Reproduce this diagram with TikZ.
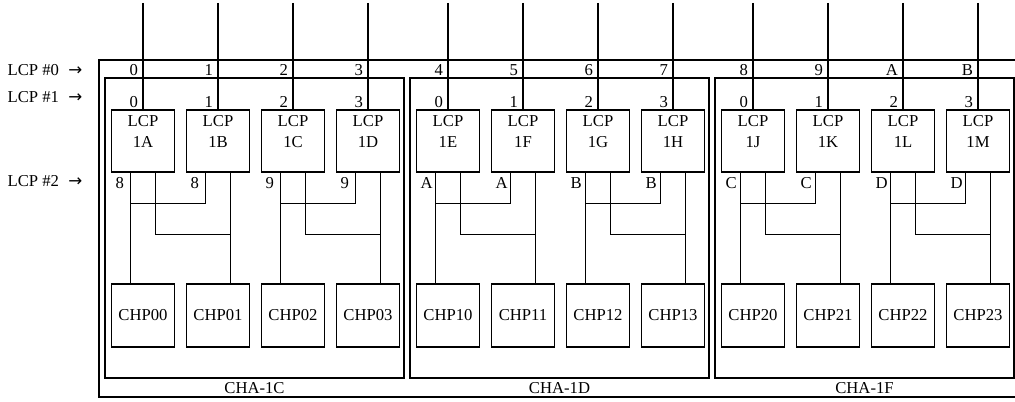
\documentclass[tikz,border=0pt]{standalone}
\usepackage{fontspec}
\setmainfont{Liberation Serif}
\newfontfamily\arrowfont{DejaVu Sans}
\usetikzlibrary{positioning, calc}

\tikzset{
  lcpbox/.style={draw, minimum width=47.25pt, minimum height=46.5pt, inner sep=0pt},
  chpbox/.style={draw, minimum width=47.25pt, minimum height=47.25pt, inner sep=0pt},
  chabox/.style={draw, minimum width=224.25pt, minimum height=225pt, inner sep=0pt},
  lbl/.style={inner sep=0pt},
}
\newcommand{\sidearrow}{\hspace{7pt}{\arrowfont →}}

\begin{document}
\begin{tikzpicture}[x=0.75pt, y=-0.75pt, line width=0.95pt, font=\fontsize{12.5}{15.75}\selectfont]
\useasboundingbox (0,0) rectangle (1015,402);

% Frames
\draw (99,60) rectangle (1030,397);
\foreach \g/\cha in {0/1C,1/1D,2/1F}{
  \node[chabox] (cha\g) at ({254.5+305*\g},228) {};
  \node[lbl, anchor=base] (chalbl\g) at ({254.5+305*\g},394) {CHA-\cha};
}

% Side labels
\node[lbl, anchor=base west] (side0) at (7,76) {LCP \#0\sidearrow};
\node[lbl, anchor=base west] (side1) at (7,103) {LCP \#1\sidearrow};
\node[lbl, anchor=base west] (side2) at (7,187) {LCP \#2\sidearrow};

% Boxes
\foreach \n/\g/\i/\lcp/\topl/\botl in {0/0/0/1A/0/8, 1/0/1/1B/1/8, 2/0/2/1C/2/9, 3/0/3/1D/3/9,
    4/1/0/1E/4/A, 5/1/1/1F/5/A, 6/1/2/1G/6/B, 7/1/3/1H/7/B,
    8/2/0/1J/8/C, 9/2/1/1K/9/C, 10/2/2/1L/A/D, 11/2/3/1M/B/D}{
  \node[lcpbox] (lcp\n) at ({143+305*\g+75*\i},141) {};
  \node[lbl, anchor=north, align=center] (lcptxt\n) at ($(lcp\n.north)+(0,5)$) {LCP\\\lcp};
  \node[chpbox] (chp\n) at ({143+305*\g+75*\i},315.5) {CHP\g\i};
  \coordinate (in\n) at ({143+305*\g+75*\i},3);
  \draw (in\n) -- (lcp\n.north);
  \node[lbl, anchor=base east] (top\n) at ({138.5+305*\g+75*\i},76) {\topl};
  \node[lbl, anchor=base east] (mid\n) at ({138.5+305*\g+75*\i},108) {\i};
  \node[lbl, anchor=base west] (bot\n) at ($(lcp\n.south west)+(4,16)$) {\botl};
}

% Legs
\foreach \p/\q in {0/1,2/3,4/5,6/7,8/9,10/11}{
  \draw ($(lcp\p.south)+(-12.5,0)$) -- ($(chp\p.north)+(-12.5,0)$);
  \draw ($(lcp\q.south)+(-12.5,0)$) |- ($(lcp\p.south)+(-12.5,31)$);
  \draw ($(lcp\p.south)+(12.5,0)$) |- ($(lcp\q.south)+(12.5,62)$);
  \draw ($(lcp\q.south)+(12.5,0)$) -- ($(chp\q.north)+(12.5,0)$);
}
\end{tikzpicture}
\end{document}
